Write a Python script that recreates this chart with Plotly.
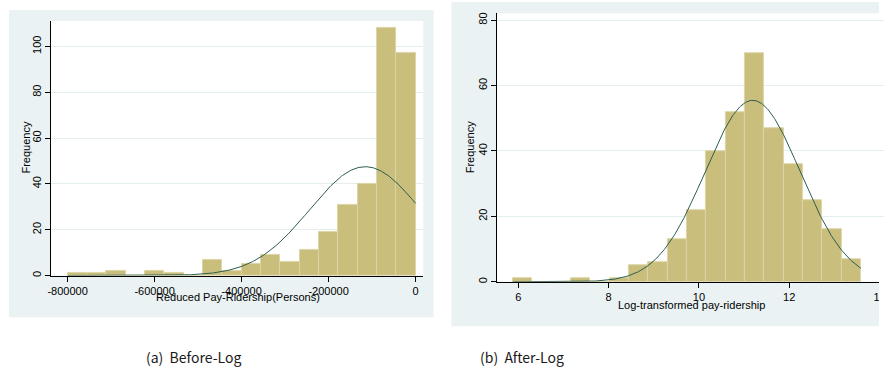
import numpy as np
import plotly.graph_objects as go

# ---------------- data ----------------
# (a) Before-Log : 18 equal-width bins
left_bin_start = -800000.0
left_bin_width = 800000.0 / 18
left_counts = [1, 1, 2, 0, 2, 1, 0, 7, 2, 5, 9, 6, 11, 19, 31, 40, 108, 97]
left_mean = -115800.0
left_sd = 127660.0
left_xticks = [-800000, -600000, -400000, -200000, 0]
left_xticklabels = ["-800000", "-600000", "-400000", "-200000", "0"]
left_yticks = [0, 20, 40, 60, 80, 100]

# (b) After-Log : 18 equal-width bins
right_bin_start = 5.877
right_bin_width = 0.4283
right_counts = [1, 0, 0, 1, 0, 1, 5, 6, 13, 22, 40, 52, 70, 47, 36, 25, 16, 7]
right_mean = 11.19
right_sd = 1.053
right_xticks = [6, 8, 10, 12, 14]
right_yticks = [0, 20, 40, 60, 80]

captions = ["(a)\u00a0\u00a0Before-Log", "(b)\u00a0\u00a0After-Log"]
x_titles = ["Reduced Pay-Ridership(Persons)", "Log-transformed pay-ridership"]
y_title = "Frequency"

# ---------------- style ----------------
W, H = 886, 372
BAR = "#C9BE7C"
BAR_EDGE = "#DDD5A6"
CURVE = "#2C5C50"
PANEL = "#EAF2F3"
GRID = "#E4EDEF"
FONT = "Liberation Sans, Arial, sans-serif"


def px(x):
    return x / W


def py(y):
    return 1 - y / H


def hist_traces(start, width, counts, mean, sd, xa, ya):
    n = len(counts)
    centers = [start + (i + 0.5) * width for i in range(n)]
    bars = go.Bar(x=centers, y=counts, width=[width] * n,
                  marker=dict(color=BAR, line=dict(color=BAR_EDGE, width=1)),
                  xaxis=xa, yaxis=ya, showlegend=False, hoverinfo="x+y")
    total = sum(counts)
    xs = np.linspace(start, start + n * width, 400)
    ys = total * width / (sd * np.sqrt(2 * np.pi)) * np.exp(-0.5 * ((xs - mean) / sd) ** 2)
    curve = go.Scatter(x=xs, y=ys, mode="lines", line=dict(color=CURVE, width=1),
                       xaxis=xa, yaxis=ya, showlegend=False, hoverinfo="skip")
    return [bars, curve]


fig = go.Figure()
for t in hist_traces(left_bin_start, left_bin_width, left_counts, left_mean, left_sd, "x", "y"):
    fig.add_trace(t)
for t in hist_traces(right_bin_start, right_bin_width, right_counts, right_mean, right_sd, "x2", "y2"):
    fig.add_trace(t)

axis_common = dict(showline=True, linecolor="#000000", linewidth=1, ticks="outside",
                   ticklen=5, tickcolor="#000000", tickwidth=1,
                   tickfont=dict(family=FONT, size=11, color="#000000"), zeroline=False)

# panel geometry (pixels)
L = dict(x0=48.3, x1=422.7, y0=20, y1=276)
R = dict(x0=496.7, x1=886, y0=12.3, y1=282.3)

fig.update_layout(
    width=W, height=H, margin=dict(l=0, r=0, t=0, b=0),
    paper_bgcolor="white", plot_bgcolor="white", bargap=0,
    xaxis=dict(domain=[px(L["x0"]), px(L["x1"])], range=[-838171, 17600],
               tickmode="array", tickvals=left_xticks, ticktext=left_xticklabels,
               showgrid=False, anchor="y", **axis_common),
    yaxis=dict(domain=[py(L["y1"]), py(L["y0"])], range=[0, 111.16],
               tickmode="array", tickvals=left_yticks, tickangle=-90,
               showgrid=True, gridcolor=GRID, gridwidth=1, anchor="x", **axis_common),
    xaxis2=dict(domain=[px(R["x0"]), px(R["x1"])], range=[5.524, 14.099],
                tickmode="array", tickvals=right_xticks, ticklabeloverflow="allow",
                showgrid=False, anchor="y2", **axis_common),
    yaxis2=dict(domain=[py(R["y1"]), py(R["y0"])], range=[0, 82.13],
                tickmode="array", tickvals=right_yticks, tickangle=-90,
                showgrid=True, gridcolor=GRID, gridwidth=1, anchor="x2", **axis_common),
)

shapes = [
    dict(type="rect", xref="paper", yref="paper", layer="below", line=dict(width=0),
         fillcolor=PANEL, x0=px(6), x1=px(433), y0=py(318), y1=py(9)),
    dict(type="rect", xref="paper", yref="paper", layer="below", line=dict(width=0),
         fillcolor=PANEL, x0=px(451), x1=px(881), y0=py(327), y1=py(1)),
    dict(type="rect", xref="paper", yref="paper", layer="below", line=dict(width=0),
         fillcolor="white", x0=px(L["x0"]), x1=px(L["x1"]), y0=py(L["y1"]), y1=py(L["y0"])),
    dict(type="rect", xref="paper", yref="paper", layer="below", line=dict(width=0),
         fillcolor="white", x0=px(R["x0"]), x1=px(R["x1"]), y0=py(R["y1"]), y1=py(R["y0"])),
    # right panel cropped at its right edge in the original
    dict(type="rect", xref="paper", yref="paper", layer="above", line=dict(width=0),
         fillcolor="white", x0=px(881), x1=1, y0=0, y1=py(276)),
]
fig.update_layout(shapes=shapes)

ann = [
    dict(text=x_titles[0], x=px(236.7), y=py(297.7)),
    dict(text=x_titles[1], x=px(692.5), y=py(305.7)),
    dict(text=y_title, x=px(23.5), y=py(147), textangle=-90),
    dict(text=y_title, x=px(470), y=py(146.7), textangle=-90),
]
annotations = []
for a in ann:
    d = dict(xref="paper", yref="paper", xanchor="center", yanchor="middle",
             showarrow=False, font=dict(family=FONT, size=11, color="#000000"))
    d.update(a)
    annotations.append(d)
for text, lx in zip(captions, [141.5, 478]):
    annotations.append(dict(text=text, x=px(lx), y=py(358), xref="paper", yref="paper",
                            xanchor="left", yanchor="middle", showarrow=False,
                            font=dict(family="Noto Sans CJK KR, Noto Sans, sans-serif",
                                      size=14, color="#1a1a1a")))
# white cover over the cropped edge of the right panel (above tick labels)
annotations.append(dict(text=" ", x=px(881), y=py(276), xref="paper", yref="paper",
                        xanchor="left", yanchor="top", showarrow=False,
                        width=10, height=40, bgcolor="white", borderpad=0, borderwidth=0))
fig.update_layout(annotations=annotations)

fig.write_html("out.html", config={"displayModeBar": False},
               post_script="document.body.style.margin='0';document.body.style.overflow='hidden';")
